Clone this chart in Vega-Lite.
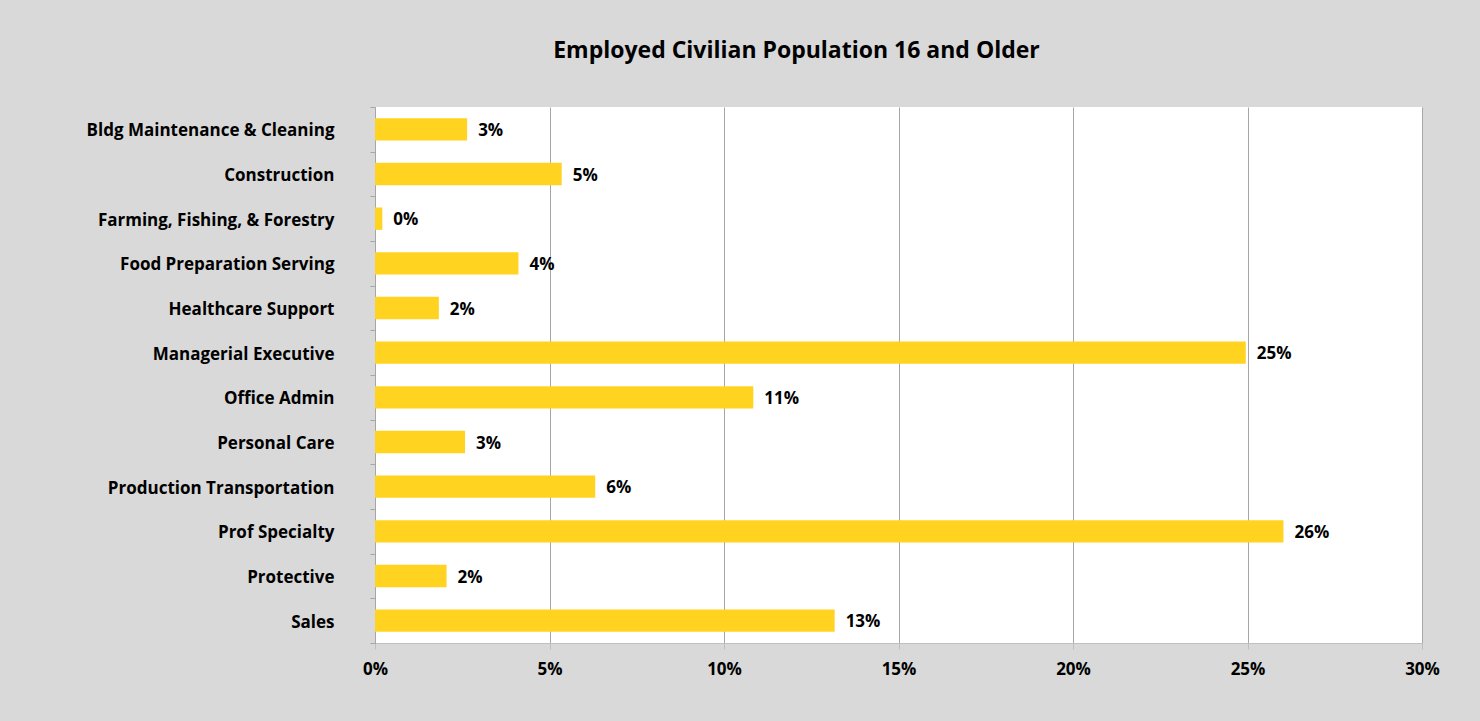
{
  "$schema": "https://vega.github.io/schema/vega-lite/v6.json",
  "autosize": {"type": "none"},
  "width": 1047,
  "height": 536,
  "padding": {"left": 375, "top": 107, "right": 58, "bottom": 78},
  "background": "#d9d9d9",
  "title": {
    "text": "Employed Civilian Population 16 and Older",
    "anchor": "middle",
    "frame": "group",
    "dx": -102,
    "offset": 17,
    "baseline": "alphabetic",
    "font": "Open Sans",
    "fontSize": 23,
    "fontWeight": "bold",
    "color": "#000000"
  },
  "config": {
    "view": {"fill": "#ffffff", "stroke": null},
    "font": "Open Sans"
  },
  "data": {
    "values": [
      {"occupation": "Bldg Maintenance & Cleaning", "share": 0.0264},
      {"occupation": "Construction", "share": 0.0535},
      {"occupation": "Farming, Fishing, & Forestry", "share": 0.0021},
      {"occupation": "Food Preparation Serving", "share": 0.0411},
      {"occupation": "Healthcare Support", "share": 0.0183},
      {"occupation": "Managerial Executive", "share": 0.2495},
      {"occupation": "Office Admin", "share": 0.1084},
      {"occupation": "Personal Care", "share": 0.0258},
      {"occupation": "Production Transportation", "share": 0.0631},
      {"occupation": "Prof Specialty", "share": 0.2603},
      {"occupation": "Protective", "share": 0.0205},
      {"occupation": "Sales", "share": 0.1317}
    ]
  },
  "encoding": {
    "y": {
      "field": "occupation",
      "type": "nominal",
      "sort": null,
      "scale": {"paddingInner": 0, "paddingOuter": 0},
      "axis": {
        "title": null,
        "tickBand": "extent",
        "tickSize": 5,
        "tickColor": "#a6a6a6",
        "domainColor": "#a6a6a6",
        "labelPadding": 36,
        "labelOffset": 1.5,
        "labelFontSize": 17,
        "labelFontWeight": "bold",
        "labelColor": "#000000",
        "labelFont": "Open Sans",
        "labelLimit": 400
      }
    },
    "x": {
      "field": "share",
      "type": "quantitative",
      "scale": {"domain": [0, 0.3], "nice": false},
      "axis": {
        "title": null,
        "format": ".0%",
        "values": [0, 0.05, 0.1, 0.15, 0.2, 0.25, 0.3],
        "grid": true,
        "gridColor": "#a6a6a6",
        "gridWidth": 1,
        "tickSize": 6,
        "tickColor": "#bfbfbf",
        "domainColor": "#bfbfbf",
        "labelFlush": false,
        "labelPadding": 12,
        "labelFontSize": 17,
        "labelFontWeight": "bold",
        "labelColor": "#000000",
        "labelFont": "Open Sans"
      }
    }
  },
  "layer": [
    {
      "mark": {"type": "bar", "color": "#ffd320", "height": {"band": 0.5}}
    },
    {
      "mark": {
        "type": "text",
        "align": "left",
        "baseline": "middle",
        "dx": 11,
        "dy": 1.5,
        "fontSize": 17,
        "fontWeight": "bold",
        "font": "Open Sans",
        "color": "#000000"
      },
      "encoding": {
        "text": {"field": "share", "type": "quantitative", "format": ".0%"}
      }
    }
  ]
}
